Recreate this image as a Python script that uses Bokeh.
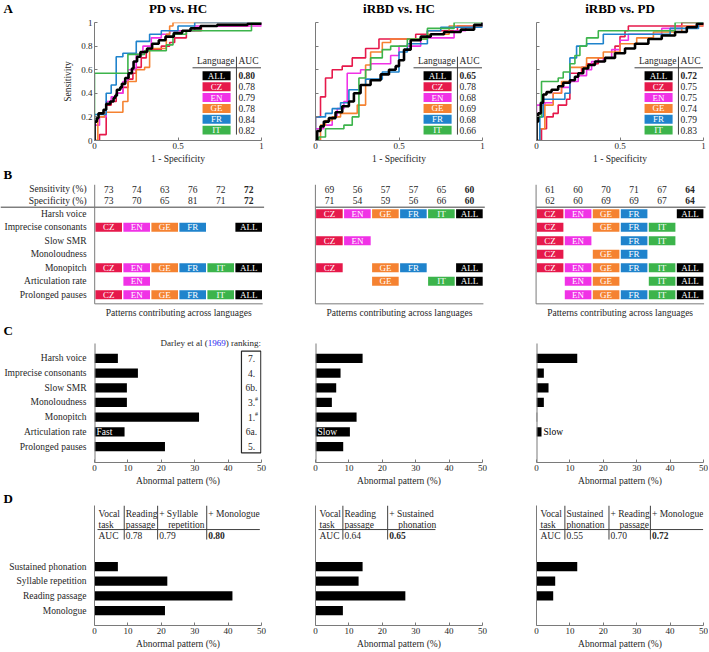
from bokeh.plotting import figure
from bokeh.layouts import column, row
from bokeh.models import Range1d, FixedTicker, NumeralTickFormatter, CustomJSTickFormatter, Label, Title
from bokeh.core.properties import value
from bokeh.embed import file_html
from bokeh.resources import INLINE

# ---------------- data ----------------
langs = ["CZ", "EN", "GE", "FR", "IT", "ALL"]
lang_colors = ["#e6194b", "#f032e6", "#f58231", "#1f83cc", "#3cb44b", "#000000"]
comparisons = ["PD vs. HC", "iRBD vs. HC", "iRBD vs. PD"]

# ROC curves: corner points (1 - specificity, sensitivity)
pdhc_cz_fpr = [0, 0.03, 0.07, 0.1, 0.13, 0.17, 0.2, 0.23, 0.25, 0.28, 0.31, 0.4, 0.45, 0.48, 0.55, 0.64, 0.92, 1]
pdhc_cz_tpr = [0, 0.05, 0.3, 0.33, 0.4, 0.45, 0.52, 0.57, 0.62, 0.7, 0.77, 0.8, 0.83, 0.87, 0.93, 0.97, 1.0, 1.0]
pdhc_en_fpr = [0, 0, 0.03, 0.07, 0.1, 0.13, 0.17, 0.2, 0.25, 0.29, 0.34, 0.4, 0.45, 0.6, 1]
pdhc_en_tpr = [0, 0.13, 0.2, 0.33, 0.37, 0.4, 0.5, 0.6, 0.73, 0.8, 0.87, 0.9, 0.93, 0.97, 1]
pdhc_ge_fpr = [0, 0.02, 0.06, 0.17, 0.2, 0.25, 0.3, 0.33, 0.43, 0.45, 0.47, 1]
pdhc_ge_tpr = [0, 0.2, 0.24, 0.33, 0.5, 0.6, 0.62, 0.78, 0.9, 0.97, 1.0, 1.0]
pdhc_fr_fpr = [0, 0, 0.07, 0.1, 0.13, 0.17, 0.25, 0.33, 0.4, 0.5, 0.6, 1]
pdhc_fr_tpr = [0, 0.22, 0.4, 0.47, 0.71, 0.74, 0.84, 0.9, 0.93, 0.97, 1.0, 1.0]
pdhc_it_fpr = [0, 0, 0.2, 0.3, 0.43, 0.47, 0.55, 0.94, 1]
pdhc_it_tpr = [0, 0.57, 0.73, 0.76, 0.81, 0.9, 0.93, 1.0, 1.0]
pdhc_all_fpr = [0, 0, 0.014, 0.024, 0.054, 0.07, 0.094, 0.114, 0.124, 0.134, 0.154, 0.164, 0.184, 0.204, 0.224,
                0.234, 0.255, 0.275, 0.315, 0.345, 0.385, 0.425, 0.475, 0.525, 0.575, 0.635, 0.735, 0.916, 1]
pdhc_all_tpr = [0, 0.16, 0.19, 0.23, 0.26, 0.31, 0.33, 0.36, 0.38, 0.43, 0.45, 0.48, 0.53, 0.57, 0.61,
                0.67, 0.71, 0.75, 0.78, 0.82, 0.85, 0.88, 0.91, 0.93, 0.95, 0.97, 0.98, 0.99, 1]

rbdhc_cz_fpr = [0, 0, 0.03, 0.06, 0.1, 0.16, 0.22, 0.3, 0.38, 0.6, 0.67, 0.85, 1]
rbdhc_cz_tpr = [0, 0.2, 0.37, 0.53, 0.6, 0.63, 0.7, 0.78, 0.86, 0.9, 0.93, 0.97, 1]
rbdhc_en_fpr = [0, 0, 0.05, 0.1, 0.13, 0.17, 0.19, 0.27, 0.33, 0.45, 0.5, 0.63, 0.83, 0.9, 1]
rbdhc_en_tpr = [0, 0.1, 0.13, 0.2, 0.27, 0.33, 0.57, 0.6, 0.65, 0.72, 0.8, 0.87, 0.93, 0.97, 1]
rbdhc_ge_fpr = [0, 0.03, 0.06, 0.1, 0.15, 0.25, 0.3, 0.33, 0.4, 0.45, 0.67, 0.8, 1]
rbdhc_ge_tpr = [0, 0.13, 0.17, 0.2, 0.23, 0.3, 0.64, 0.75, 0.83, 0.86, 0.9, 0.97, 1]
rbdhc_fr_fpr = [0, 0, 0.06, 0.1, 0.15, 0.2, 0.27, 0.3, 0.4, 0.5, 0.55, 0.67, 0.75, 1]
rbdhc_fr_tpr = [0, 0.2, 0.23, 0.27, 0.32, 0.43, 0.47, 0.52, 0.58, 0.75, 0.82, 0.93, 0.96, 1]
rbdhc_it_fpr = [0, 0.02, 0.06, 0.17, 0.22, 0.26, 0.3, 0.33, 0.4, 0.45, 0.55, 0.67, 0.83, 1]
rbdhc_it_tpr = [0, 0.03, 0.1, 0.13, 0.2, 0.53, 0.6, 0.7, 0.77, 0.8, 0.86, 0.95, 1, 1]
rbdhc_all_fpr = [0, 0.01, 0.03, 0.05, 0.08, 0.12, 0.16, 0.2, 0.23, 0.27, 0.33, 0.39, 0.44, 0.48, 0.5, 0.53,
                 0.57, 0.63, 0.69, 0.77, 0.87, 0.95, 1]
rbdhc_all_tpr = [0, 0.08, 0.12, 0.16, 0.19, 0.24, 0.29, 0.33, 0.4, 0.47, 0.51, 0.56, 0.6, 0.63, 0.68, 0.77,
                 0.85, 0.88, 0.9, 0.92, 0.94, 0.98, 1]

rbdpd_cz_fpr = [0, 0.03, 0.06, 0.1, 0.13, 0.18, 0.2, 0.27, 0.3, 0.37, 0.47, 0.5, 0.53, 0.55, 0.87, 1]
rbdpd_cz_tpr = [0, 0.1, 0.2, 0.23, 0.3, 0.35, 0.57, 0.62, 0.65, 0.7, 0.8, 0.88, 0.93, 0.97, 1, 1]
rbdpd_en_fpr = [0, 0, 0.05, 0.1, 0.15, 0.2, 0.25, 0.3, 0.33, 0.4, 0.45, 0.5, 0.55, 0.75, 0.87, 1]
rbdpd_en_tpr = [0, 0.3, 0.32, 0.4, 0.45, 0.5, 0.55, 0.6, 0.67, 0.7, 0.77, 0.85, 0.9, 0.95, 0.97, 1]
rbdpd_ge_fpr = [0, 0.02, 0.05, 0.1, 0.15, 0.2, 0.3, 0.4, 0.5, 0.6, 0.7, 0.87, 1]
rbdpd_ge_tpr = [0, 0.1, 0.3, 0.4, 0.5, 0.62, 0.7, 0.75, 0.82, 0.87, 0.92, 0.97, 1]
rbdpd_fr_fpr = [0, 0.02, 0.04, 0.17, 0.2, 0.24, 0.3, 0.4, 0.8, 0.97, 1]
rbdpd_fr_tpr = [0, 0.2, 0.35, 0.4, 0.7, 0.8, 0.82, 0.9, 0.95, 1, 1]
rbdpd_it_fpr = [0, 0, 0.03, 0.13, 0.16, 0.2, 0.23, 0.26, 0.3, 0.37, 0.83, 1]
rbdpd_it_tpr = [0, 0.2, 0.5, 0.53, 0.58, 0.65, 0.72, 0.8, 0.87, 0.93, 1, 1]
rbdpd_all_fpr = [0, 0, 0.01, 0.026, 0.04, 0.06, 0.09, 0.13, 0.16, 0.2, 0.23, 0.25, 0.28, 0.31, 0.35, 0.41,
                 0.47, 0.53, 0.59, 0.67, 0.75, 0.83, 0.9, 0.96, 1]
rbdpd_all_tpr = [0, 0.16, 0.23, 0.32, 0.39, 0.41, 0.43, 0.46, 0.49, 0.51, 0.54, 0.57, 0.61, 0.64, 0.67, 0.7,
                 0.74, 0.78, 0.82, 0.86, 0.89, 0.92, 0.96, 0.99, 1]

# AUC per language (CZ, EN, GE, FR, IT, ALL)
auc_pdhc = [0.78, 0.79, 0.78, 0.84, 0.82, 0.80]
auc_rbdhc = [0.78, 0.68, 0.69, 0.68, 0.66, 0.65]
auc_rbdpd = [0.75, 0.75, 0.74, 0.79, 0.83, 0.72]

# Sensitivity / specificity (%)
sens_pdhc = [73, 74, 63, 76, 72, 72]
spec_pdhc = [73, 70, 65, 81, 71, 72]
sens_rbdhc = [69, 56, 57, 57, 65, 60]
spec_rbdhc = [71, 54, 59, 56, 66, 60]
sens_rbdpd = [61, 60, 70, 71, 67, 64]
spec_rbdpd = [62, 60, 69, 69, 67, 64]

patterns = ["Harsh voice", "Imprecise consonants", "Slow SMR", "Monoloudness",
            "Monopitch", "Articulation rate", "Prolonged pauses"]
# contribution flags per pattern, in language order CZ EN GE FR IT ALL
contrib_pdhc = ["000000", "111101", "000000", "000000", "111111", "010000", "111111"]
contrib_rbdhc = ["111111", "000000", "110000", "000000", "101101", "001011", "000000"]
contrib_rbdpd = ["111101", "101110", "110110", "101100", "111111", "011011", "011111"]

# Abnormal pattern (%)
abn_pdhc = [7.0, 13.0, 9.7, 9.7, 31.3, 9.0, 21.1]
abn_rbdhc = [14.1, 7.5, 6.2, 4.9, 12.3, 10.3, 8.3]
abn_rbdpd = [12.2, 2.2, 3.6, 2.2, 0.2, 1.5, 0.0]
rate_label = ["Fast", "Slow", "Slow"]
darley_rank = ["7.", "4.", "6b.", "3.", "1.", "6a.", "5."]
darley_sup = ["", "", "", "#", "#", "", ""]

tasks = ["Sustained phonation", "Syllable repetition", "Reading passage", "Monologue"]
task_pdhc = [7.0, 21.8, 41.3, 21.1]
task_rbdhc = [14.1, 12.9, 26.9, 8.2]
task_rbdpd = [12.2, 5.6, 5.0, 0.0]

seq_pdhc = ["Reading passage", "+ Syllable repetition", "+ Monologue"]
seq_auc_pdhc = [0.78, 0.79, 0.80]
seq_rbdhc = ["Reading passage", "+ Sustained phonation"]
seq_auc_rbdhc = [0.64, 0.65]
seq_rbdpd = ["Sustained phonation", "+ Reading passage", "+ Monologue"]
seq_auc_rbdpd = [0.55, 0.70, 0.72]

# ---------------- grouping ----------------
roc_fpr = [[pdhc_cz_fpr, pdhc_en_fpr, pdhc_ge_fpr, pdhc_fr_fpr, pdhc_it_fpr, pdhc_all_fpr],
           [rbdhc_cz_fpr, rbdhc_en_fpr, rbdhc_ge_fpr, rbdhc_fr_fpr, rbdhc_it_fpr, rbdhc_all_fpr],
           [rbdpd_cz_fpr, rbdpd_en_fpr, rbdpd_ge_fpr, rbdpd_fr_fpr, rbdpd_it_fpr, rbdpd_all_fpr]]
roc_tpr = [[pdhc_cz_tpr, pdhc_en_tpr, pdhc_ge_tpr, pdhc_fr_tpr, pdhc_it_tpr, pdhc_all_tpr],
           [rbdhc_cz_tpr, rbdhc_en_tpr, rbdhc_ge_tpr, rbdhc_fr_tpr, rbdhc_it_tpr, rbdhc_all_tpr],
           [rbdpd_cz_tpr, rbdpd_en_tpr, rbdpd_ge_tpr, rbdpd_fr_tpr, rbdpd_it_tpr, rbdpd_all_tpr]]
aucs = [auc_pdhc, auc_rbdhc, auc_rbdpd]
senss = [sens_pdhc, sens_rbdhc, sens_rbdpd]
specs = [spec_pdhc, spec_rbdhc, spec_rbdpd]
contribs = [contrib_pdhc, contrib_rbdhc, contrib_rbdpd]
abns = [abn_pdhc, abn_rbdhc, abn_rbdpd]
task_vals = [task_pdhc, task_rbdhc, task_rbdpd]
seqs = [seq_pdhc, seq_rbdhc, seq_rbdpd]
seq_aucs = [seq_auc_pdhc, seq_auc_rbdhc, seq_auc_rbdpd]

# ---------------- style / layout ----------------
FONT = "Liberation Serif"
INK = "#262626"
AXC = "#7a7a7a"
LINE = "#404040"
FS = "9.5px"
COL_W = [290, 220, 198]
BL = [94, 25, 26]
BR = [29, 28, 5]
FRAME_W = 167
TOTAL_W = sum(COL_W)
STRIP_H = 16


def txt(p, x, y, t, size=FS, align="left", color=INK, style="normal", xo=0, yo=0):
    p.text(x=x, y=y, text=t, text_font=value(FONT), text_font_size=size, text_align=align,
           text_baseline="middle", text_color=color, text_font_style=style, x_offset=xo, y_offset=yo)


def letter_title(p, t, offset):
    p.add_layout(Title(text=t, align="left", offset=offset, standoff=0, text_font=FONT,
                       text_font_size="13px", text_font_style="bold", text_color="black"), "above")


def plain_fig(w, h, xr, yr):
    p = figure(width=w, height=h, x_range=xr, y_range=yr, x_axis_location=None, y_axis_location=None,
               min_border=0, output_backend="svg", toolbar_location=None)
    p.grid.visible = False
    p.outline_line_color = None
    return p


def base_fig(w, h, bl, br, top, bottom, xr, yr):
    p = figure(width=w, height=h, x_range=xr, y_range=yr, output_backend="svg",
               toolbar_location=None, min_border_left=bl, min_border_right=br,
               min_border_top=top, min_border_bottom=bottom)
    p.grid.visible = False
    p.outline_line_color = None
    for ax in list(p.left) + list(p.below):
        ax.axis_line_color = AXC
        ax.major_tick_line_color = AXC
        ax.minor_tick_line_color = None
        ax.major_tick_in = 3
        ax.major_tick_out = 0
        ax.major_label_text_font = FONT
        ax.major_label_text_font_size = "9px"
        ax.major_label_text_color = INK
        ax.major_label_standoff = 2
        ax.axis_label_text_font = FONT
        ax.axis_label_text_font_size = FS
        ax.axis_label_text_font_style = "normal"
        ax.axis_label_text_color = INK
        ax.axis_label_standoff = 2
    return p


# ---- Header strip: panel letter A and the three comparison titles ----
def header_fig():
    p = plain_fig(TOTAL_W, STRIP_H, Range1d(0, TOTAL_W), Range1d(STRIP_H, 0))
    txt(p, [3], [8], ["A"], size="13px", color="black", style="bold")
    centers = []
    left = 0
    for j in range(3):
        centers.append(left + BL[j] + FRAME_W / 2)
        left += COL_W[j]
    txt(p, centers, [8] * 3, comparisons, size="13px", align="center", color="black", style="bold")
    return p


# ---- Row A: ROC curves ----
def roc_fig(j):
    p = base_fig(COL_W[j], 150, BL[j], BR[j], 6, 26, Range1d(0, 1), Range1d(0, 1))
    p.xaxis.ticker = FixedTicker(ticks=[0, 0.5, 1])
    p.xaxis.formatter = NumeralTickFormatter(format="0.[0]")
    p.xaxis.axis_label = "1 - Specificity"
    p.yaxis.ticker = FixedTicker(ticks=[0, 0.2, 0.4, 0.6, 0.8, 1])
    if j == 0:
        p.yaxis.formatter = NumeralTickFormatter(format="0.[0]")
        p.yaxis.axis_label = "Sensitivity"
        p.yaxis.axis_label_standoff = 5
    else:
        p.yaxis.formatter = CustomJSTickFormatter(code="return ''")
    for i in range(5):
        p.step(x=roc_fpr[j][i], y=roc_tpr[j][i], mode="after", line_color=lang_colors[i], line_width=1.6)
    p.step(x=roc_fpr[j][5], y=roc_tpr[j][5], mode="after", line_color="black", line_width=2.6)
    # legend table
    order = [5, 0, 1, 2, 3, 4]
    ly = [0.548 - 0.092 * k for k in range(6)]
    p.rect(x=0.731, y=ly, width=0.168, height=0.076, fill_color=[lang_colors[k] for k in order],
           line_color=None)
    txt(p, 0.731, ly, [langs[k] for k in order], size="9px", align="center", color="white")
    txt(p, 0.862, ly[:1], ["%.2f" % aucs[j][5]], style="bold")
    txt(p, 0.862, ly[1:], ["%.2f" % aucs[j][k] for k in range(5)])
    txt(p, 0.838, [0.675], ["Language"], align="right")
    txt(p, 0.862, [0.675], ["AUC"])
    p.segment(x0=[0.587], y0=[0.616], x1=[0.997], y1=[0.616], line_color=LINE, line_width=1)
    p.segment(x0=[0.85], y0=[0.71], x1=[0.85], y1=[0.05], line_color=LINE, line_width=1)
    return p


# ---- Row B: tables ----
B_XR = [(-3.864, 6.493), (-1.389, 6.468), (-1.414, 5.657)]


def table_fig(j):
    p = plain_fig(COL_W[j], 152, Range1d(*B_XR[j]), Range1d(7.756, -3.504))
    for yy, vals in ((-1.82, senss[j]), (-0.96, specs[j])):
        txt(p, list(range(5)), [yy] * 5, [str(v) for v in vals[:5]], align="center")
        txt(p, [5], [yy], [str(vals[5])], align="center", style="bold")
    xs, ys, cs, ls = [], [], [], []
    for k, code in enumerate(contribs[j]):
        for i, ch in enumerate(code):
            if ch == "1":
                xs.append(i)
                ys.append(k)
                cs.append(lang_colors[i])
                ls.append(langs[i])
    p.rect(x=xs, y=ys, width=0.95, height=0.667, fill_color=cs, line_color=None)
    txt(p, xs, ys, ls, size="9px", align="center", color="white")
    x_start = B_XR[j][0] if j == 0 else -0.5
    p.segment(x0=[x_start], y0=[-0.49], x1=[5.55], y1=[-0.49], line_color=LINE, line_width=1)
    p.segment(x0=[-0.5], y0=[-2.15], x1=[-0.5], y1=[6.67], line_color=AXC, line_width=1)
    p.segment(x0=[-0.5], y0=[6.67], x1=[5.5], y1=[6.67], line_color=AXC, line_width=1)
    txt(p, [2.5], [7.36], ["Patterns contributing across languages"], align="center")
    if j == 0:
        labels = ["Sensitivity (%)", "Specificity (%)"] + patterns
        txt(p, [-0.79] * len(labels), [-1.82, -0.96] + list(range(len(patterns))), labels, align="right")
        txt(p, [-3.757], [-2.91], ["B"], size="13px", color="black", style="bold")
    return p


# ---- Bars ----
def bar_fig(j, h, top, bottom, yr, cats, vals):
    p = base_fig(COL_W[j], h, BL[j], BR[j], top, bottom, Range1d(0, 50), Range1d(*yr))
    n = len(cats)
    ys = [n - i for i in range(n)]
    p.hbar(y=ys, left=0, right=vals, height=0.63, fill_color="black", line_color=None)
    p.xaxis.ticker = FixedTicker(ticks=[0, 10, 20, 30, 40, 50])
    p.xaxis.axis_label = "Abnormal pattern (%)"
    p.yaxis.major_tick_line_color = None
    p.yaxis.major_label_text_font_size = FS
    if j == 0:
        p.yaxis.ticker = FixedTicker(ticks=ys)
        p.yaxis.major_label_overrides = {y: c for y, c in zip(ys, cats)}
        p.yaxis.major_label_standoff = 8
    else:
        p.yaxis.ticker = FixedTicker(ticks=[])
    return p, ys


def pattern_fig(j):
    p, ys = bar_fig(j, 170, 19, 26, (-0.09, 8.43), patterns, abns[j])
    p.yaxis.axis_line_color = None
    p.segment(x0=[0], y0=[-0.09], x1=[0], y1=[8.02], line_color=AXC, line_width=2)
    k = patterns.index("Articulation rate")
    v = abns[j][k]
    if v > 5:
        txt(p, [0.6], [ys[k]], [rate_label[j]], color="white")
    else:
        txt(p, [v + 0.6], [ys[k]], [rate_label[j]], color="black")
    if j == 0:
        letter_title(p, "C", -91)
        p.quad(left=[44.0], right=[49.8], bottom=[0.57], top=[7.5], fill_color=None,
               line_color=INK, line_width=1.2)
        txt(p, [47.0] * len(ys), ys, darley_rank, align="center")
        sx = [47.0 for s in darley_sup if s]
        sy = [y for y, s in zip(ys, darley_sup) if s]
        txt(p, sx, sy, [s for s in darley_sup if s], size="6px", xo=3.5, yo=-3)
        for t, xx, al, col in (("Darley et al (", 33.9, "right", INK), ("1969", 33.9, "left", "#2020ee"),
                               (") ranking:", 39.3, "left", INK)):
            p.add_layout(Label(x=xx, y=8.04, text=t, text_font=FONT, text_font_size="9px", text_color=col,
                               text_align=al, text_baseline="middle"))
    return p


D_DIV = [[8.9, 18.9, 33.6], [8.2, 21.6], [8.5, 21.7, 34.1]]
D_END = [49.5, 35.9, 49.9]


def split_task(name):
    if name.startswith("+ "):
        w = name[2:].split(" ", 1)
        return "+ " + w[0], (w[1] if len(w) > 1 else ""), True
    w = name.split(" ", 1)
    return w[0], (w[1] if len(w) > 1 else ""), False


def task_fig(j):
    p, ys = bar_fig(j, 163, 17, 26, (-0.02, 8.16), tasks, task_vals[j])
    if j == 0:
        letter_title(p, "D", -91)
    y1, y2, ya = 7.61, 6.86, 6.11
    txt(p, [1.2, 1.2, 1.2], [y1, y2, ya], ["Vocal", "task", "AUC"])
    n = len(seqs[j])
    for k, name in enumerate(seqs[j]):
        x = D_DIV[j][k] + 0.45
        l1, l2, plus = split_task(name)
        txt(p, [x], [y1], [l1])
        if l2:
            txt(p, [x], [y2], [l2], xo=9 if plus else 0)
        txt(p, [x], [ya], ["%.2f" % seq_aucs[j][k]], style="bold" if k == n - 1 else "normal")
    p.segment(x0=D_DIV[j], y0=[8.16] * n, x1=D_DIV[j], y1=[5.84] * n, line_color=LINE, line_width=1)
    p.segment(x0=[0.9], y0=[6.52], x1=[D_END[j]], y1=[6.52], line_color=LINE, line_width=1)
    return p


layout = column(
    header_fig(),
    row(*[roc_fig(j) for j in range(3)]),
    row(*[table_fig(j) for j in range(3)]),
    row(*[pattern_fig(j) for j in range(3)]),
    row(*[task_fig(j) for j in range(3)]),
)

open("out.html", "w").write(file_html(layout, INLINE))
